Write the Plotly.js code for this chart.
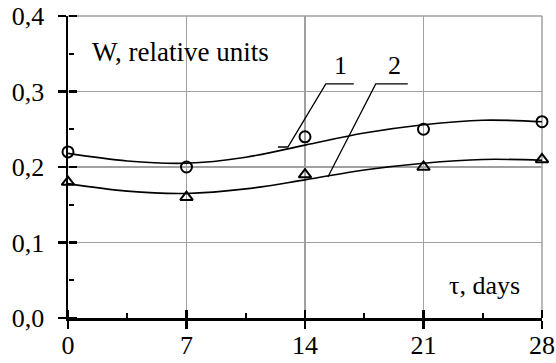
<!DOCTYPE html>
<html><head><meta charset="utf-8">
<script src="https://cdn.plot.ly/plotly-3.0.1.min.js"></script>
<style>html,body{margin:0;padding:0;background:#fff}#c{width:556px;height:363px}</style>
</head><body><div id="c"></div>
<script>
const days = [0, 7, 14, 21, 28];
const series1 = [0.22, 0.20, 0.24, 0.25, 0.26];
const series2 = [0.18, 0.16, 0.19, 0.20, 0.21];
const curveX = [0, 3.5, 7, 10.5, 14, 17.5, 21, 24.5, 28];
const curve1 = [0.218, 0.208, 0.205, 0.213, 0.229, 0.245, 0.256, 0.262, 0.260];
const curve2 = [0.178, 0.168, 0.165, 0.171, 0.183, 0.196, 0.205, 0.210, 0.209];
const xTickVals = [0, 7, 14, 21, 28];
const xTickText = ['0', '7', '14', '21', '28'];
const xMinorVals = [3.5, 10.5, 17.5, 24.5];
const yTickVals = [0, 0.1, 0.2, 0.3, 0.4];
const yTickText = ['0,0', '0,1', '0,2', '0,3', '0,4'];
const yMinorVals = [0.05, 0.15, 0.25, 0.35];
const yTitle = 'W, relative units';
const xTitle = 'τ, days';
const seriesLabels = ['1', '2'];

const F = 'Liberation Serif';
const traces = [
  {x: curveX, y: curve1, mode: 'lines', line: {color: '#000', width: 1.6, shape: 'spline'}, showlegend: false},
  {x: curveX, y: curve2, mode: 'lines', line: {color: '#000', width: 1.6, shape: 'spline'}, showlegend: false},
  {x: days, y: series1, mode: 'markers', cliponaxis: false,
   marker: {symbol: 'circle-open', size: 11, color: '#000', line: {width: 2, color: '#000'}}, showlegend: false},
  {x: days, y: series2, mode: 'markers', cliponaxis: false,
   marker: {symbol: 'triangle-up-open', size: 11, color: '#000', line: {width: 2, color: '#000'}}, showlegend: false},
  {x: [0], y: [0], xaxis: 'x2', yaxis: 'y2', mode: 'markers', marker: {opacity: 0}, showlegend: false, hoverinfo: 'skip'}
];
const layout = {
  width: 556, height: 363,
  margin: {l: 68, r: 14, t: 16, b: 45},
  paper_bgcolor: '#fff', plot_bgcolor: '#fff',
  font: {family: F, size: 26, color: '#000'},
  xaxis: {range: [0, 28], tickmode: 'array', tickvals: xTickVals, ticktext: xTickText, showgrid: true,
    gridcolor: '#a0a0a0', gridwidth: 1.5, zeroline: false, showline: true, linecolor: '#000', linewidth: 2.5,
    ticks: 'outside', ticklen: 8, tickwidth: 2.5, tickcolor: '#000', ticklabelstandoff: -6,
    tickfont: {family: F, size: 26, color: '#000'}},
  yaxis: {range: [0, 0.4], tickmode: 'array', tickvals: yTickVals, ticktext: yTickText, showgrid: true,
    gridcolor: '#a0a0a0', gridwidth: 1.5, zeroline: false, showline: true, linecolor: '#000', linewidth: 2.5,
    ticks: 'outside', ticklen: 8, tickwidth: 2.5, tickcolor: '#000', ticklabelstandoff: 8,
    tickfont: {family: F, size: 26, color: '#000'}},
  xaxis2: {overlaying: 'x', side: 'top', anchor: 'free', position: 0, range: [0, 28],
    tickmode: 'array', tickvals: xTickVals, showticklabels: false,
    showgrid: false, zeroline: false, showline: false, ticks: 'outside', ticklen: 8, tickwidth: 2.5, tickcolor: '#000',
    minor: {tickmode: 'array', tickvals: xMinorVals, ticks: 'outside', ticklen: 5, tickwidth: 2, tickcolor: '#000', showgrid: false}},
  yaxis2: {overlaying: 'y', side: 'right', anchor: 'free', position: 0, range: [0, 0.4],
    tickmode: 'array', tickvals: yTickVals, showticklabels: false,
    showgrid: false, zeroline: false, showline: false, ticks: 'outside', ticklen: 8, tickwidth: 2.5, tickcolor: '#000',
    minor: {tickmode: 'array', tickvals: yMinorVals, ticks: 'outside', ticklen: 5, tickwidth: 2, tickcolor: '#000', showgrid: false}},
  shapes: [
    {type: 'line', xref: 'paper', yref: 'paper', x0: 0, x1: 1, y0: 1, y1: 1, layer: 'below', line: {color: '#a0a0a0', width: 1.5}},
    {type: 'line', xref: 'paper', yref: 'paper', x0: 1, x1: 1, y0: 0, y1: 1, layer: 'below', line: {color: '#a0a0a0', width: 1.5}},
    {type: 'path', xref: 'x', yref: 'y', path: 'M12.4,0.2265 L12.99,0.2265 L15.23,0.310 L16.88,0.310', line: {color: '#000', width: 1.3}},
    {type: 'path', xref: 'x', yref: 'y', path: 'M15.35,0.1868 L18.18,0.310 L20.07,0.310', line: {color: '#000', width: 1.3}}
  ],
  annotations: [
    {text: yTitle, x: 1.3, y: 0.352, xref: 'x', yref: 'y', xanchor: 'left', yanchor: 'middle', showarrow: false, font: {family: F, size: 27, color: '#000'}},
    {text: xTitle, x: 22.4, y: 0.043, xref: 'x', yref: 'y', xanchor: 'left', yanchor: 'middle', showarrow: false, font: {family: F, size: 26, color: '#000'}},
    {text: seriesLabels[0], x: 16.1, y: 0.312, xref: 'x', yref: 'y', xanchor: 'center', yanchor: 'bottom', showarrow: false, font: {family: F, size: 26, color: '#000'}},
    {text: seriesLabels[1], x: 19.3, y: 0.312, xref: 'x', yref: 'y', xanchor: 'center', yanchor: 'bottom', showarrow: false, font: {family: F, size: 26, color: '#000'}}
  ]
};
Plotly.newPlot('c', traces, layout, {displayModeBar: false, staticPlot: true});
</script></body></html>
